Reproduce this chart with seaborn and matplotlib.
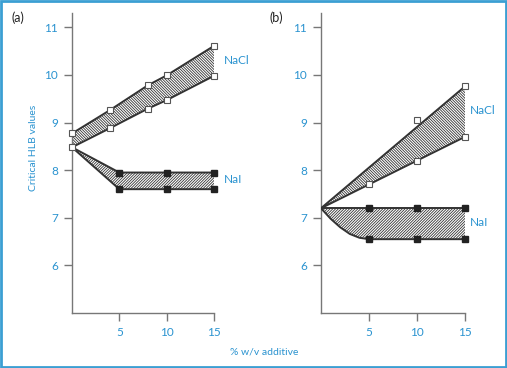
import numpy as np
import pandas as pd
import matplotlib
matplotlib.use("Agg")
import matplotlib.pyplot as plt
import seaborn as sns
from matplotlib.patches import Rectangle

sns.set_theme(style="white")
plt.rcParams['font.family'] = ['Lato', 'DejaVu Sans']
plt.rcParams['hatch.linewidth'] = 0.6
plt.rcParams['hatch.color'] = '#333333'

BLUE = '#2a93d0'
LINE = '#333333'
AXC = '#777777'

# ---- Data: panel (a) ----
a_nacl_x = [0, 4, 8, 10, 15]
a_nacl_upper = [8.77, 9.26, 9.78, 9.99, 10.61]
a_nacl_lower = [8.48, 8.88, 9.29, 9.47, 9.98]
a_nai_x = [0, 5, 10, 15]
a_nai_upper = [8.48, 7.95, 7.95, 7.95]
a_nai_lower = [8.48, 7.60, 7.60, 7.60]

# ---- Data: panel (b) ----
b_nacl_upper_line_x = [0, 15]
b_nacl_upper_line = [7.2, 9.76]
b_nacl_upper_pts_x = [10, 15]
b_nacl_upper_pts = [9.06, 9.76]
b_nacl_lower_x = [0, 5, 10, 15]
b_nacl_lower = [7.2, 7.70, 8.20, 8.70]
b_nai_x = [0, 5, 10, 15]
b_nai_upper = [7.2, 7.2, 7.2, 7.2]
b_nai_lower_curve_x = [0, 1, 2, 3, 4, 5, 10, 15]
b_nai_lower_curve = [7.2, 6.98, 6.80, 6.66, 6.58, 6.55, 6.55, 6.55]
b_nai_lower_pts_x = [5, 10, 15]
b_nai_lower_pts = [6.55, 6.55, 6.55]

yticks = [6, 7, 8, 9, 10, 11]
xticks = [5, 10, 15]

fig = plt.figure(figsize=(5.07, 3.68), dpi=100)
axa = fig.add_axes([72/507, (368-313)/368, 142/507, 300/368])
axb = fig.add_axes([321/507, (368-313)/368, 144/507, 300/368])

def style(ax):
    ax.set_xlim(0, 15)
    ax.set_ylim(5, 11.3)
    ax.set_facecolor('none')
    for s in ['top', 'right']:
        ax.spines[s].set_visible(False)
    for s in ['left', 'bottom']:
        ax.spines[s].set_color(AXC)
        ax.spines[s].set_linewidth(1.0)
    ax.set_xticks(xticks)
    ax.set_yticks(yticks)
    ax.tick_params(axis='both', which='both', direction='out', length=6,
                   width=1.0, color=AXC, labelcolor=BLUE, labelsize=8.5, pad=4,
                   left=True, bottom=True)
    ax.set_xlabel('')
    ax.set_ylabel('')

HB = '\\' * 12
HF = '/' * 12

def band(ax, x, lo, hi, hatch):
    ax.fill_between(x, lo, hi, facecolor='white', edgecolor='#333333',
                    hatch=hatch, linewidth=0, zorder=1)

msq = dict(marker='s', markersize=4.3, clip_on=False, zorder=5, linestyle='none')
LW = 1.4

# Panel (a)
band(axa, a_nacl_x, a_nacl_lower, a_nacl_upper, HB)
band(axa, a_nai_x, a_nai_lower, a_nai_upper, HF)
for y in (a_nacl_upper, a_nacl_lower):
    sns.lineplot(x=a_nacl_x, y=y, ax=axa, color=LINE, linewidth=LW, zorder=3)
    axa.plot(a_nacl_x, y, markerfacecolor='white', markeredgecolor='#555555',
             markeredgewidth=0.8, **msq)
for y in (a_nai_upper, a_nai_lower):
    sns.lineplot(x=a_nai_x, y=y, ax=axa, color=LINE, linewidth=LW, zorder=3)
    axa.plot(a_nai_x[1:], y[1:], markerfacecolor='#222222',
             markeredgecolor='#222222', **msq)

# Panel (b)
upper_interp = np.interp(b_nacl_lower_x, b_nacl_upper_line_x, b_nacl_upper_line)
band(axb, b_nacl_lower_x, b_nacl_lower, upper_interp, HB)
nai_up_interp = np.interp(b_nai_lower_curve_x, b_nai_x, b_nai_upper)
band(axb, b_nai_lower_curve_x, b_nai_lower_curve, nai_up_interp, HF)
sns.lineplot(x=b_nacl_upper_line_x, y=b_nacl_upper_line, ax=axb, color=LINE,
             linewidth=LW, zorder=3)
sns.lineplot(x=b_nacl_lower_x, y=b_nacl_lower, ax=axb, color=LINE,
             linewidth=LW, zorder=3)
axb.plot(b_nacl_upper_pts_x, b_nacl_upper_pts, markerfacecolor='white',
         markeredgecolor='#555555', markeredgewidth=0.8, **msq)
axb.plot(b_nacl_lower_x[1:], b_nacl_lower[1:], markerfacecolor='white',
         markeredgecolor='#555555', markeredgewidth=0.8, **msq)
sns.lineplot(x=b_nai_x, y=b_nai_upper, ax=axb, color=LINE, linewidth=LW, zorder=3)
axb.plot(b_nai_lower_curve_x, b_nai_lower_curve, color=LINE, linewidth=LW, zorder=3)
axb.plot(b_nai_x[1:], b_nai_upper[1:], markerfacecolor='#222222',
         markeredgecolor='#222222', **msq)
axb.plot(b_nai_lower_pts_x, b_nai_lower_pts, markerfacecolor='#222222',
         markeredgecolor='#222222', **msq)

for ax in (axa, axb):
    style(ax)

# Series labels
fig.text(224/507, 1-61/368, 'NaCl', color=BLUE, fontsize=8.5, va='center', ha='left')
fig.text(224/507, 1-180/368, 'NaI', color=BLUE, fontsize=8.5, va='center', ha='left')
fig.text(470/507, 1-110/368, 'NaCl', color=BLUE, fontsize=8.5, va='center', ha='left')
fig.text(470/507, 1-222/368, 'NaI', color=BLUE, fontsize=8.5, va='center', ha='left')

fig.text(18/507, 1-18/368, '(a)', color='#222222', fontsize=9, va='center', ha='center')
fig.text(276/507, 1-18/368, '(b)', color='#222222', fontsize=9, va='center', ha='center')

fig.text(33/507, 1-148/368, 'Critical HLB values', color=BLUE, fontsize=7.5,
         rotation=90, va='center', ha='center')
fig.text(264/507, 1-352/368, '% w/v additive', color=BLUE, fontsize=7.5,
         va='center', ha='center')

# Frame
fig.patches.append(Rectangle((0.002, 0.003), 0.996, 0.994, transform=fig.transFigure,
                             fill=False, edgecolor='#3b9fd3', linewidth=2.0))

fig.savefig('out.png', dpi=100)
